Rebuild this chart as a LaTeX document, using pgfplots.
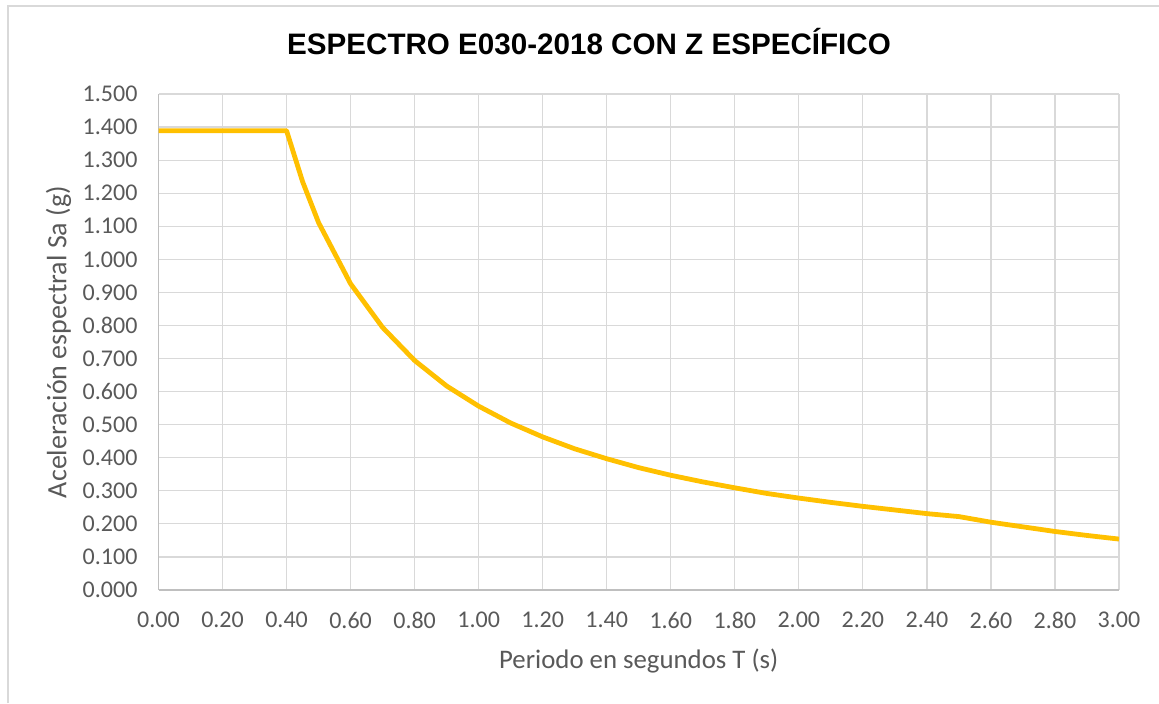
\documentclass[border=0pt]{standalone}
\usepackage{fontspec}
\setmainfont{Carlito}
\newfontfamily\titlefont{Liberation Sans}
\usepackage{pgfplots}
\pgfplotsset{compat=1.18}

\definecolor{serie}{HTML}{FFC000}
\definecolor{rejilla}{HTML}{D9D9D9}
\definecolor{ejes}{HTML}{BFBFBF}
\definecolor{texto}{HTML}{595959}

\pgfplotstableread{
T Sa
0.00 1.389
0.40 1.389
0.45 1.235
0.50 1.111
0.60 0.926
0.70 0.794
0.80 0.694
0.90 0.617
1.00 0.556
1.10 0.505
1.20 0.463
1.30 0.427
1.40 0.397
1.50 0.370
1.60 0.347
1.70 0.327
1.80 0.309
1.90 0.292
2.00 0.278
2.10 0.265
2.20 0.253
2.30 0.242
2.40 0.231
2.50 0.222
2.60 0.205
2.70 0.191
2.80 0.177
2.90 0.165
3.00 0.154
}\espectro

\begin{document}
\begin{tikzpicture}
% 1 px de la referencia = 0.5pt
\useasboundingbox (0,0) rectangle (579.5pt,351.5pt);
\draw[rejilla, line width=0.6pt] (4pt,0) -- (4pt,348.5pt) -- (579.5pt,348.5pt);

\node[font=\titlefont\bfseries\fontsize{14.8}{17}\selectfont, text=black, anchor=base]
  at (294.5pt,324pt) {ESPECTRO E030-2018 CON Z ESPECÍFICO};

\begin{axis}[
    at={(79.25pt,56.5pt)},
    anchor=south west,
    scale only axis,
    width=480.25pt,
    height=248pt,
    xmin=0, xmax=3,
    ymin=0, ymax=1.5,
    xtick={0,0.2,...,3.01},
    ytick={0,0.1,...,1.51},
    grid=major,
    grid style={rejilla, line width=0.6pt},
    major tick length=0pt,
    axis x line*=bottom,
    axis y line*=left,
    axis line style={ejes, line width=0.7pt},
    font=\fontsize{12}{14}\selectfont,
    tick label style={text=texto},
    /pgf/number format/assume math mode=true,
    xticklabel style={/pgf/number format/.cd, fixed, fixed zerofill, precision=2, /tikz/.cd, yshift=-7.5pt},
    yticklabel style={/pgf/number format/.cd, fixed, fixed zerofill, precision=3, /tikz/.cd, xshift=-7pt},
    xlabel={Periodo en segundos T (s)},
    ylabel={Aceleración espectral Sa (g)},
    label style={text=texto},
    xlabel style={font=\fontsize{13.4}{15}\selectfont, at={(axis description cs:0.5,-0.143)}, anchor=center},
    ylabel style={font=\fontsize{14}{16}\selectfont, at={(axis description cs:-0.104,0.5)}, anchor=center, rotate=0},
]
\addplot[serie, line width=2.4pt, line join=round, mark=none] table[x=T, y=Sa] {\espectro};
\end{axis}
\end{tikzpicture}
\end{document}
